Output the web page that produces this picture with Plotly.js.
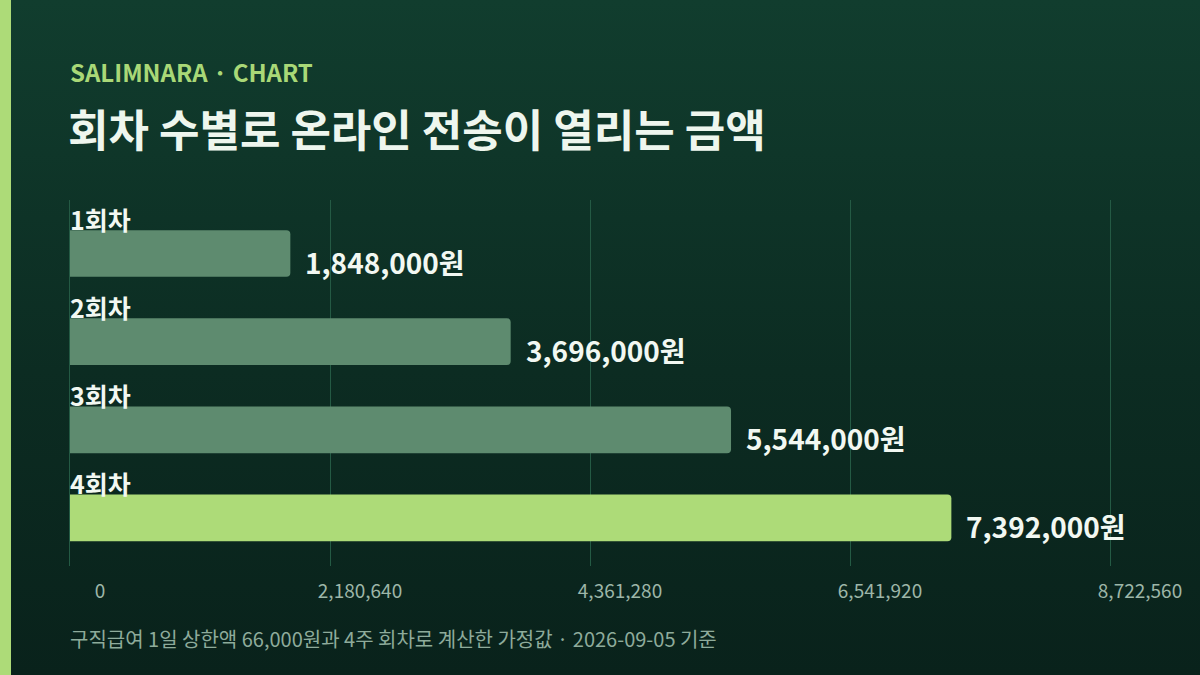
<!DOCTYPE html>
<html>
<head>
<meta charset="utf-8">
<script src="https://cdn.plot.ly/plotly-3.0.1.min.js"></script>
<style>
  html, body { margin: 0; padding: 0; width: 1200px; height: 675px; overflow: hidden;
    background: linear-gradient(180deg, #113d2e 0%, #0c2c22 55%, #09221b 100%); }
  #chart { width: 1200px; height: 675px; }
</style>
</head>
<body>
<div id="chart"></div>
<script>
const categories = ['1회차', '2회차', '3회차', '4회차'];
const amounts = [1848000, 3696000, 5544000, 7392000];
const tickValues = [0, 2180640, 4361280, 6541920, 8722560];
const tickLabels = ['0', '2,180,640', '4,361,280', '6,541,920', '8,722,560'];

const FONT = '"Noto Sans CJK KR", "Noto Sans", sans-serif';
const barColors = amounts.map((v, i) => i === amounts.length - 1 ? '#addb78' : '#5e8b6f');
const yPos = categories.map((c, i) => i);
const xMax = tickValues[tickValues.length - 1];

const trace = {
  type: 'bar',
  orientation: 'h',
  x: amounts,
  y: yPos,
  width: 0.53,
  marker: { color: barColors, cornerradius: 4, line: { width: 0 } },
  hoverinfo: 'skip'
};

const annotations = [];
categories.forEach((c, i) => {
  annotations.push({
    x: 0, y: yPos[i], xref: 'x', yref: 'y',
    text: c, showarrow: false, xanchor: 'left', yanchor: 'middle',
    yshift: 35, xshift: -2,
    font: { family: FONT, size: 25, color: '#f2f8f2', weight: 700 }
  });
  annotations.push({
    x: amounts[i], y: yPos[i], xref: 'x', yref: 'y',
    text: amounts[i].toLocaleString('en-US') + '원', showarrow: false,
    xanchor: 'left', yanchor: 'middle', xshift: 13, yshift: -8,
    font: { family: FONT, size: 28, color: '#f2f8f2', weight: 700 }
  });
});
annotations.push({
  xref: 'paper', yref: 'paper', x: 0, y: 1, xanchor: 'left', yanchor: 'middle',
  text: 'SALIMNARA · CHART', showarrow: false,
  yshift: 129, xshift: -2,
  font: { family: FONT, size: 24, color: '#a9d877', weight: 700 }
});
annotations.push({
  xref: 'paper', yref: 'paper', x: 0, y: 0, xanchor: 'left', yanchor: 'middle',
  text: '구직급여 1일 상한액 66,000원과 4주 회차로 계산한 가정값 · 2026-09-05 기준', showarrow: false,
  yshift: -72, xshift: -2,
  font: { family: FONT, size: 20, color: '#8eab9b' }
});

const layout = {
  width: 1200, height: 675,
  paper_bgcolor: 'rgba(0,0,0,0)',
  plot_bgcolor: 'rgba(0,0,0,0)',
  margin: { l: 70, r: 90, t: 200, b: 109 },
  showlegend: false,
  title: {
    text: '회차 수별로 온라인 전송이 열리는 금액',
    xref: 'container', yref: 'container',
    x: 68 / 1200, y: 1 - 132 / 675, xanchor: 'left', yanchor: 'middle',
    font: { family: FONT, size: 44, color: '#eef6ee', weight: 700 }
  },
  xaxis: {
    range: [0, xMax],
    tickmode: 'array', tickvals: tickValues, ticktext: tickLabels,
    showgrid: true, gridcolor: '#245a44', gridwidth: 1,
    zeroline: false, showline: false, ticks: '',
    ticklabelshift: 30, ticklabelstandoff: 12,
    tickfont: { family: FONT, size: 19, color: '#9db6a8' },
    fixedrange: true
  },
  yaxis: {
    range: [3.545, -0.607],
    showticklabels: false, showgrid: false, zeroline: false, ticks: '',
    showline: true, mirror: true, linecolor: '#245a44', linewidth: 1,
    layer: 'below traces',
    fixedrange: true
  },
  shapes: [{
    type: 'rect', xref: 'paper', yref: 'paper',
    x0: -70 / 1040, x1: -59 / 1040, y0: -2, y1: 3,
    fillcolor: '#addb78', line: { width: 0 }, layer: 'above'
  }],
  annotations: annotations
};

Plotly.newPlot('chart', [trace], layout, { displayModeBar: false, staticPlot: true });
</script>
</body>
</html>
